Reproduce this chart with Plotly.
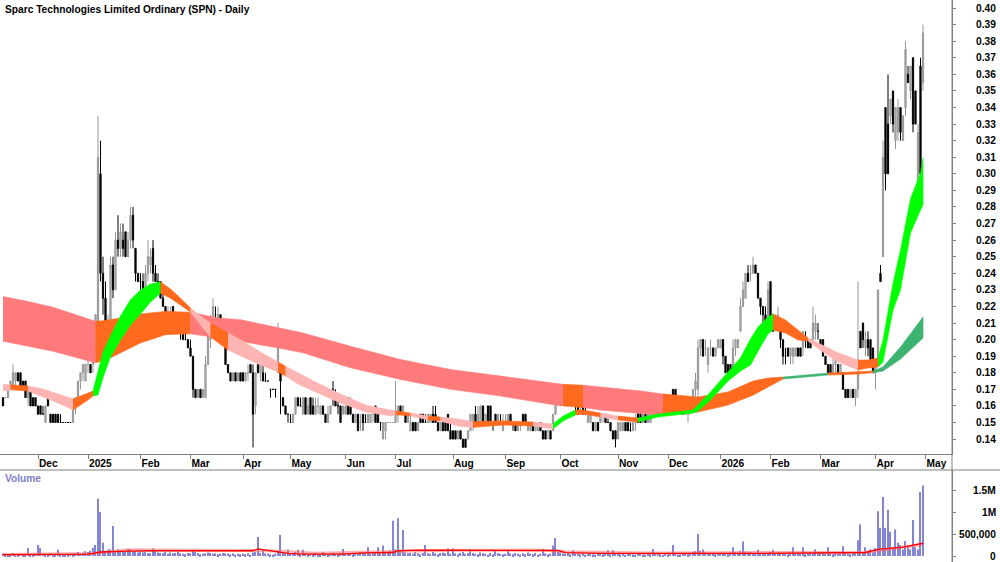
import plotly.graph_objects as go

W, H = 1000, 562
FONT = "Liberation Sans, Arial, sans-serif"
FS = 10.2

# ---------------- data ----------------
# x = trading-day index (0 = 12 Nov 2024); month starts and their labels
month_idx = [14, 34, 55, 75, 96, 115, 137, 157, 180, 201, 223, 246, 266, 287, 307, 327, 349, 369]
month_lbl = ["Dec", "2025", "Feb", "Mar", "Apr", "May", "Jun", "Jul", "Aug", "Sep", "Oct", "Nov",
             "Dec", "2026", "Feb", "Mar", "Apr", "May"]

price_ticks = [0.14, 0.15, 0.16, 0.17, 0.18, 0.19, 0.20, 0.21, 0.22, 0.23, 0.24, 0.25, 0.26, 0.27,
               0.28, 0.29, 0.30, 0.31, 0.32, 0.33, 0.34, 0.35, 0.36, 0.37, 0.38, 0.39, 0.40]
price_labels = ["0.14", "0.15", "0.16", "0.17", "0.18", "0.19", "0.20", "0.21", "0.22", "0.23",
                "0.24", "0.25", "0.26", "0.27", "0.28", "0.29", "0.30", "0.31", "0.32", "0.33",
                "0.34", "0.35", "0.36", "0.37", "0.38", "0.39", "0.40"]
vol_ticks = [0, 500000, 1000000, 1500000]
vol_labels = ["0", "500,000", "1M", "1.5M"]

# OHLC in thousandths of a dollar, month by month
opens = (
    [165,165,165,170,170,175,180,180,175,175,165,170,165,165]
    + [160,160,155,150,165,155,155,155,155,150,150,150,150,150,150,160,165,175,180,175]
    + [185,185,185,195,210,300,240,225,205,210,245,230,260,255,260,265,250,260,275,255,240]
    + [235,235,230,240,245,255,240,235,235,225,220,210,215,220,210,215,210,205,200,200]
    + [195,190,170,165,170,165,165,185,200,210,215,210,215,205,205,185,180,175,180,175,180]
    + [180,175,180,185,180,160,185,180,180,175,175,170,170,170,180,185,165,160,155]
    + [150,150,155,165,160,155,165,155,165,160,155,160,155,160,155,150,155,170,165,160,160,155]
    + [155,165,160,155,150,155,150,155,150,150,150,155,160,155,150,140,145,150,150,150]
    + [150,155,160,155,155,150,145,150,150,145,155,155,150,150,150,155,155,150,145,150,150,155,145]
    + [145,145,140,145,140,140,140,145,150,155,150,150,160,150,160,160,150,155,150,150,145]
    + [150,150,155,150,150,145,150,155,155,145,145,150,145,145,150,145,145,145,145,145,155,165]
    + [165,165,170,165,170,170,170,160,160,160,155,150,150,150,145,150,150,155,155,150,150,145,145]
    + [140,145,145,150,150,145,145,150,160,155,150,155,150,150,155,160,160,155,160,160]
    + [155,160,170,170,165,165,160,155,155,160,165,170,170,195,200,195,185,195,195,190,195]
    + [195,200,190,185,185,180,195,195,205,220,225,240,240,240,245,240,225,220,215,210]
    + [235,215,210,205,210,200,190,195,190,190,190,195,195,195,200,200,200,200,205,205]
    + [200,200,190,185,185,180,185,185,180,180,170,170,165,170,165,170,205,210,195,200,200,195]
    + [180,185,240,250,340,330,335,350,320,325,340,320,340,360,350,370,350,295,365,355]
)
highs = (
    [165,165,170,175,185,180,180,180,175,175,170,170,165,165]
    + [160,160,160,160,165,155,155,155,155,155,150,150,150,150,160,165,175,180,185,185]
    + [190,185,200,215,335,320,250,235,215,250,250,265,275,270,270,265,265,280,280,255,240]
    + [240,240,245,260,255,260,245,240,235,230,220,220,220,220,215,215,210,210,205,200]
    + [200,190,170,170,170,170,190,210,215,225,220,220,215,210,205,185,180,180,180,180,180]
    + [180,180,185,185,185,180,185,185,185,180,175,170,170,170,210,185,165,160,155]
    + [155,155,165,165,165,165,165,165,165,165,165,165,160,160,155,160,160,175,170,165,160,160]
    + [160,165,165,155,155,155,155,155,155,155,155,155,160,155,150,150,150,150,150,150]
    + [175,160,160,160,155,155,155,150,150,150,155,155,155,155,155,160,160,150,150,150,150,155,150]
    + [145,145,145,145,140,140,145,155,155,160,160,160,160,155,160,160,150,155,155,155,155]
    + [155,155,155,150,150,150,150,155,155,150,150,150,150,150,150,145,145,145,145,155,170,170]
    + [170,170,170,170,170,170,170,160,160,160,160,155,155,150,150,150,155,155,155,155,150,145,145]
    + [150,150,150,150,150,150,150,155,160,160,155,155,155,160,160,160,160,160,160,160]
    + [165,165,170,170,165,165,160,160,160,165,170,180,200,200,200,200,195,200,195,195,200]
    + [200,200,190,185,185,200,200,200,225,235,240,245,245,250,245,240,225,220,220,235]
    + [235,215,215,220,210,200,195,195,195,195,195,195,195,205,205,200,200,220,215,210]
    + [200,200,190,185,185,190,190,185,185,180,170,170,170,170,170,235,205,210,205,205,200,195]
    + [185,230,245,320,340,360,345,350,340,345,340,335,380,365,365,370,350,330,370,390]
)
lows = (
    [160,165,165,170,170,170,175,170,170,165,160,160,160,160]
    + [155,155,155,150,160,150,150,150,150,150,150,150,150,150,150,155,165,170,175,175]
    + [180,180,180,190,205,235,215,200,200,205,225,230,250,250,250,250,250,255,255,235,235]
    + [230,230,230,235,240,235,235,230,225,220,210,205,210,210,210,210,200,200,200,195]
    + [190,165,165,165,165,165,165,185,195,205,210,205,205,205,185,180,175,175,175,175,175]
    + [175,175,175,180,135,155,180,175,175,175,175,165,170,165,180,155,160,155,150]
    + [150,150,155,160,160,155,155,155,155,155,155,155,155,155,150,150,155,160,160,155,150,155]
    + [155,155,155,150,150,145,145,145,150,150,150,150,150,150,145,140,140,150,150,150]
    + [150,150,155,155,150,150,145,145,145,145,150,150,150,150,150,150,150,145,145,145,145,145,140]
    + [140,140,140,140,135,135,140,145,145,150,150,150,150,150,150,150,145,150,150,150,145]
    + [150,150,150,145,145,145,145,150,150,145,145,145,145,145,145,140,140,140,140,145,155,160]
    + [160,165,165,165,165,160,155,155,155,155,155,150,150,145,145,145,150,150,150,150,145,140,135]
    + [140,145,145,145,145,145,145,145,150,150,150,150,150,150,155,155,155,155,155,155]
    + [155,155,160,160,160,160,155,155,150,155,160,165,165,190,190,190,180,190,190,190,195]
    + [195,185,180,180,180,180,190,195,205,220,225,235,235,240,240,225,215,210,210,210]
    + [205,205,205,205,195,185,185,190,185,185,190,190,190,190,195,195,195,200,200,200]
    + [195,190,185,180,180,180,180,180,180,170,165,165,165,165,160,165,195,195,190,190,185,180]
    + [170,185,235,250,290,300,330,325,315,320,320,320,335,355,345,325,330,290,290,350]
)
closes = (
    [160,165,170,175,180,180,175,170,170,165,170,160,160,160]
    + [155,155,155,160,160,150,150,150,150,150,150,150,150,150,160,165,175,180,185,185]
    + [185,180,195,215,310,240,225,205,210,245,230,260,255,265,255,250,260,275,260,240,235]
    + [235,230,240,250,250,240,235,235,225,220,210,215,215,210,215,210,205,200,200,195]
    + [190,170,165,170,165,170,185,205,210,220,215,215,205,210,185,180,175,180,175,180,175]
    + [175,180,180,180,155,180,180,185,175,175,175,170,170,170,205,175,160,155,155]
    + [150,155,165,160,160,165,155,160,155,155,160,160,160,155,150,155,160,165,160,160,150,160]
    + [160,155,155,150,155,145,150,150,150,155,155,155,150,150,150,150,150,150,150,150]
    + [155,160,155,160,150,155,150,145,145,150,150,150,150,155,155,150,150,145,150,145,145,145,140]
    + [140,140,145,140,135,135,145,155,155,150,155,160,150,155,150,150,150,150,155,150,150]
    + [150,155,150,150,145,150,150,150,150,150,150,145,150,150,145,140,140,145,140,155,165,170]
    + [165,170,165,170,165,165,160,155,160,155,155,155,155,145,150,145,155,155,150,150,145,140,140]
    + [150,150,150,145,145,145,150,150,150,150,155,150,155,160,160,155,155,160,155,155]
    + [165,165,165,160,160,160,155,160,160,165,170,175,195,200,190,195,195,195,190,195,200]
    + [200,190,180,180,180,195,200,200,220,230,240,235,240,245,240,225,220,215,210,230]
    + [210,205,210,215,200,190,190,190,195,195,195,190,190,205,200,195,195,210,210,205]
    + [195,190,185,180,180,185,190,180,185,170,165,165,170,165,170,180,195,200,200,195,185,180]
    + [185,230,235,310,300,300,345,330,340,340,325,335,375,355,365,330,330,325,300,385]
)
# volume in thousands of shares
volume_k = (
    [60,30,20,40,70,40,30,50,30,40,180,40,30,50]
    + [250,180,50,30,40,60,30,40,140,30,20,40,30,50,40,60,90,50,70,110]
    + [90,120,180,250,1300,1000,300,120,150,150,680,110,150,100,90,120,160,150,90,110,80]
    + [100,80,90,70,60,170,110,80,70,60,90,50,80,60,70,90,60,50,40,70]
    + [60,140,90,70,40,50,60,80,70,50,60,40,50,70,60,50,40,60,30,50,40]
    + [50,40,60,30,80,90,430,70,150,60,50,40,30,50,120,480,90,60,150]
    + [50,60,90,140,40,140,60,30,50,40,70,30,40,90,50,30,60,80,50,40,70,160]
    + [60,50,70,40,60,50,90,70,60,200,50,60,80,200,60,240,100,70,120,800]
    + [150,860,120,590,80,60,70,50,90,60,40,70,250,60,50,90,60,40,70,80,60,170,50]
    + [170,60,40,70,90,50,60,160,70,50,40,80,60,50,30,70,40,140,60,50,40]
    + [50,140,60,40,70,50,30,60,40,80,50,40,70,30,50,160,60,40,50,240,410,90]
    + [80,60,50,70,40,130,60,50,40,70,30,50,60,40,30,50,60,40,50,130,40,130,60]
    + [50,40,60,30,50,70,40,30,60,50,40,30,50,40,160,50,60,40,30,50]
    + [40,60,250,50,30,40,60,50,40,70,90,110,500,120,150,90,70,60,50,40,60]
    + [50,70,60,40,80,200,90,70,120,330,100,80,90,60,50,140,70,60,80,60]
    + [90,140,60,70,80,50,60,40,70,200,50,60,60,200,40,60,70,50,150,60]
    + [60,70,50,200,60,40,70,50,60,220,80,50,40,60,70,360,720,90,200,100,150,80]
    + [180,1020,640,1340,640,1050,550,200,600,300,250,150,340,200,150,820,200,150,1450,1600]
)

# volume moving averages (index, thousands)
vol_ma_idx = [0, 12, 34, 36, 39, 50, 60, 100, 102, 108, 114, 120, 135, 145, 156, 158, 165, 200,
              212, 222, 225, 240, 300, 330, 345, 350, 360, 368]
vol_ma_k = [30, 30, 45, 60, 91, 110, 120, 120, 160, 110, 60, 45, 45, 70, 80, 120, 136, 130,
            120, 125, 75, 60, 60, 70, 80, 150, 200, 290]
vol_ma2_idx = [0, 36, 50, 75, 100, 112, 125, 160, 180, 215, 225, 260, 300, 345, 355, 368]
vol_ma2_k = [35, 55, 140, 140, 125, 110, 60, 110, 130, 135, 95, 70, 75, 85, 160, 260]

# short-term MMA ribbon: edges (thousandths) and state of each stretch
short_idx = [0, 3, 10, 16, 22, 28, 34, 36, 38, 40, 43, 47, 51, 55, 59, 63, 67, 71, 75, 80,
             83, 90, 96, 103, 110, 113, 118, 125, 135, 145, 155, 157, 163, 170, 175, 182, 188, 200, 212, 220,
             224, 229, 232, 239, 246, 254, 262, 276, 278, 283, 290, 295, 299, 302, 306, 308, 313, 318, 322, 328,
             334, 342, 346, 350, 352, 356, 359, 363, 367, 368]
short_top = [173, 172.8, 172, 170.2, 167.2, 164.2, 167.8, 169, 181.7, 192.5,
             202.2, 214.2, 224, 229.9, 233.5, 234.7, 230.5, 225, 219, 213,
             210, 204, 199, 192.5, 186.5, 184, 179.8, 174.4, 167.2, 160.5,
             157.5, 157, 155.7, 153.9, 153.3, 152.1, 150.5, 151, 150.3, 149.1,
             153.9, 157.5, 157.5, 155.7, 153.9, 152.7, 155.1, 157.5, 160.5, 168.4,
             180.5, 189, 200.4, 207.6, 213.6, 215.5, 211.8, 205.8, 201, 196.7,
             192, 187.7, 187.7, 188.9, 199.8, 234, 254, 285, 300.5, 309.5]
short_bot = [169, 169.8, 169, 165.4, 161.8, 157.5, 163.6, 166, 166.6, 177,
             189.5, 199.8, 208.8, 215.4, 222.7, 228, 225, 220.9, 216.6, 207,
             201.6, 193.7, 189.5, 184.7, 180.5, 178, 173.2, 168.4, 161.8, 156.3,
             154, 154.6, 154, 151.5, 150.9, 147.9, 147, 148.5, 147.9, 146.1,
             150.9, 154.5, 155.1, 153.3, 151.5, 150.3, 153.3, 155.7, 157, 163.6,
             175, 181, 184.7, 193, 203.4, 205.8, 204, 199.8, 199.2, 192.5,
             186.5, 181.7, 182.9, 183.5, 186.5, 217.8, 230, 264.3, 278.2, 281.2]
short_state = list("POPPPOOGGG" "GGGGGOOOPP" "OPPPOPPPPP" "POPOPPOOPG"
                   "GOOPOGGGGG" "GGGGGOOOPP" "POOGGGGGG")

# long-term MMA ribbon
long_idx = [0, 10, 20, 30, 37, 41, 47, 55, 65, 75, 86, 95, 110, 120, 139, 159, 179, 199, 219, 224,
            232, 239, 255, 264, 278, 290, 300, 306, 312, 330, 342, 348, 352, 359, 368]
long_top = [226, 223, 219.5, 214.5, 211, 211.5, 213, 215.5, 217, 216.5,
            213, 212, 207, 204, 196, 188, 182, 178, 174, 173,
            172.5, 171.5, 169, 167.2, 165.4, 168.4, 175, 176.8, 177.4, 179.8,
            180.5, 181, 183.5, 195.5, 213.6]
long_bot = [199, 196, 193, 189, 186, 187.5, 192, 198, 203, 203.5,
            201, 199, 195, 192, 183, 176, 170, 166, 161, 160,
            159, 157.5, 155.5, 154.5, 156.3, 160.5, 166.5, 171.5, 176.2, 178.6,
            179.2, 180, 181, 188.3, 200.9]
long_state = list("SSSSOOOOOSSSSSSSSSSOSSSOOOOOGOOGGG")

SHORT_COL = {"P": "#FFB4B4", "O": "#FF6A1F", "G": "#00FF00"}
LONG_COL = {"S": "#FF7B7B", "O": "#FF6A1F", "G": "#3CB371"}

# ---------------- figure ----------------
n = len(closes)
assert len(opens) == len(highs) == len(lows) == n == len(volume_k)
xi = list(range(n))

fig = go.Figure()


def add_band(idx, top, bot, state, cmap):
    k, m = 0, len(state)
    while k < m:
        j = k
        while j + 1 < m and state[j + 1] == state[k]:
            j += 1
        xs = idx[k:j + 2]
        ys = [v / 1000 for v in top[k:j + 2]] + [v / 1000 for v in bot[k:j + 2]][::-1]
        c = cmap[state[k]]
        fig.add_trace(go.Scatter(x=xs + xs[::-1], y=ys, mode="lines", fill="toself",
                                 fillcolor=c, line=dict(color=c, width=0.6),
                                 hoverinfo="skip", showlegend=False, xaxis="x", yaxis="y"))
        k = j + 1


add_band(long_idx, long_top, long_bot, long_state, LONG_COL)
add_band(short_idx, short_top, short_bot, short_state, SHORT_COL)

fig.add_trace(go.Candlestick(
    x=xi, open=[v / 1000 for v in opens], high=[v / 1000 for v in highs],
    low=[v / 1000 for v in lows], close=[v / 1000 for v in closes],
    increasing=dict(line=dict(color="#969696", width=1), fillcolor="#B8B8B8"),
    decreasing=dict(line=dict(color="#000000", width=1), fillcolor="#000000"),
    whiskerwidth=0, hoverinfo="skip", showlegend=False, xaxis="x", yaxis="y"))

fig.add_trace(go.Bar(x=xi, y=[v * 1000 for v in volume_k], width=0.45,
                     marker=dict(color="#8585D6", line=dict(width=0)),
                     hoverinfo="skip", showlegend=False, xaxis="x2", yaxis="y2"))
fig.add_trace(go.Scatter(x=vol_ma2_idx, y=[v * 1000 for v in vol_ma2_k], mode="lines",
                         line=dict(color="rgba(255,110,110,0.55)", width=3),
                         hoverinfo="skip", showlegend=False, xaxis="x2", yaxis="y2"))
fig.add_trace(go.Scatter(x=vol_ma_idx, y=[v * 1000 for v in vol_ma_k], mode="lines",
                         line=dict(color="#FF0000", width=1.3),
                         hoverinfo="skip", showlegend=False, xaxis="x2", yaxis="y2"))

price_dom = [1 - 454 / H, 1.0]
vol_dom = [0.0, 1 - 470 / H]
xr = [-1.2, 379.6]
prange = [0.1310, 0.40483]
vrange = [-136000, 1954545]
GRAY = "#808080"
tfont = dict(family=FONT, size=FS, color="black", weight="bold")

annotations = [
    dict(text="Sparc Technologies Limited Ordinary (SPN) - Daily", xref="paper", yref="paper",
         x=0.003, y=1 - 9 / H, xanchor="left", yanchor="middle", showarrow=False,
         font=dict(family=FONT, size=FS, color="black", weight="bold")),
    dict(text="Volume", xref="paper", yref="paper", x=0.003, y=1 - 478 / H,
         xanchor="left", yanchor="middle", showarrow=False,
         font=dict(family=FONT, size=FS, color="#7E7EC8", weight="bold")),
]
# right-aligned axis labels for both panes
for v, t in zip(price_ticks, price_labels):
    annotations.append(dict(text=t, xref="paper", yref="y", x=0.998, y=v, xanchor="right",
                            yanchor="middle", showarrow=False, font=tfont))
for v, t in zip(vol_ticks, vol_labels):
    annotations.append(dict(text=t, xref="paper", yref="y2", x=0.998, y=v, xanchor="right",
                            yanchor="middle", showarrow=False, font=tfont))

fig.update_layout(
    width=W, height=H, margin=dict(l=0, r=0, t=0, b=0),
    paper_bgcolor="white", plot_bgcolor="white", showlegend=False, boxgap=0.3,
    font=dict(family=FONT),
    xaxis=dict(domain=[0, 0.952], range=xr, anchor="y", tickmode="array",
               tickvals=month_idx, ticktext=month_lbl, ticks="outside", ticklen=4,
               tickcolor=GRAY, ticklabelposition="outside right", tickfont=tfont,
               showline=True, linecolor=GRAY, linewidth=1, showgrid=False, zeroline=False,
               rangeslider=dict(visible=False), fixedrange=True),
    yaxis=dict(domain=price_dom, range=prange, side="right", anchor="x", tickmode="array",
               tickvals=price_ticks, ticks="outside", ticklen=3, tickcolor=GRAY,
               showticklabels=False, showline=True, linecolor=GRAY, showgrid=False,
               zeroline=False, fixedrange=True),
    xaxis2=dict(domain=[0, 0.952], range=xr, anchor="y2", matches="x", showticklabels=False,
                ticks="", showline=False, showgrid=False, zeroline=False),
    yaxis2=dict(domain=vol_dom, range=vrange, side="right", anchor="x2", tickmode="array",
                tickvals=vol_ticks, ticks="outside", ticklen=3, tickcolor=GRAY,
                showticklabels=False, showline=True, linecolor=GRAY, showgrid=False,
                zeroline=False, fixedrange=True),
    shapes=[
        dict(type="line", xref="paper", yref="paper", x0=0.952, x1=0.952, y0=0, y1=1,
             line=dict(color=GRAY, width=1)),
        dict(type="line", xref="paper", yref="paper", x0=0, x1=1, y0=1 - 470 / H, y1=1 - 470 / H,
             line=dict(color=GRAY, width=1)),
    ],
    annotations=annotations,
)

fig.write_html("out.html")
